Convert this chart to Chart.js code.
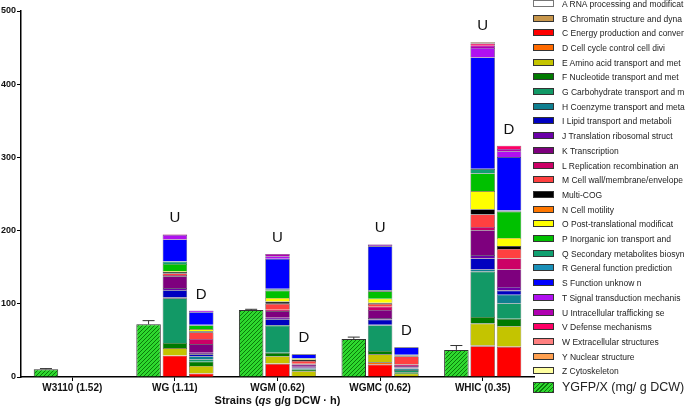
<!DOCTYPE html>
<html>
<head>
<meta charset="utf-8">
<script src="https://cdn.jsdelivr.net/npm/chart.js@4"></script>
<style>
  body { margin: 0; background: #fff; }
  #wrap { position: relative; width: 685px; height: 411px; font-family: Arial, "Liberation Sans", sans-serif; }
  #legend { position: absolute; left: 0; top: 0; }
  .item { position: absolute; left: 533px; height: 10px; white-space: nowrap; }
  .box { position: absolute; left: 0; width: 19px; height: 5px; border: 1px solid #333; }
  .txt { position: absolute; left: 29px; font-size: 8.5px; color: #222; line-height: 10px; top: -5px; }
</style>
</head>
<body>
<div id="wrap">
  <canvas id="c" width="685" height="411"></canvas>
  <div id="legend"></div>
</div>
<script>
const strains = ['W3110 (1.52)', 'WG (1.11)', 'WGM (0.62)', 'WGMC (0.62)', 'WHIC (0.35)'];

const cogLabels = [
  'A RNA processing and modificat', 'B Chromatin structure and dyna', 'C Energy production and conver',
  'D Cell cycle control cell divi', 'E Amino acid transport and met', 'F Nucleotide transport and met',
  'G Carbohydrate transport and m', 'H Coenzyme transport and metab', 'I Lipid transport and metaboli',
  'J Translation ribosomal struct', 'K Transcription', 'L Replication recombination an',
  'M Cell wall/membrane/envelope', 'Multi-COG', 'N Cell motility', 'O Post-translational modificat',
  'P Inorganic ion transport and', 'Q Secondary metabolites biosyn', 'R General function prediction',
  'S Function unknow n', 'T Signal transduction mechanis', 'U Intracellular trafficking se',
  'V Defense mechanisms', 'W Extracellular structures', 'Y Nuclear structure', 'Z Cytoskeleton'
];

const cogColors = [
  '#FFFFFF', '#C8964B', '#FF0000', '#FF6A00', '#C4C400', '#007A00', '#129966', '#0F7F90', '#0000C0',
  '#6B00A8', '#7E007E', '#CC0066', '#FF4040', '#000000', '#FF7700', '#FFFF00', '#00C000', '#10A070',
  '#1A90B8', '#0000FF', '#B010F0', '#B000B0', '#FF0066', '#FF8080', '#FFA050', '#FFFFA0'
];

// YGFP/X (mg/g DCW) with error
const ygfp = [10.5, 72, 91.5, 52, 37];
const ygfpErr = [1, 5, 1, 2.5, 6];

// COG counts, order as cogLabels (A..Z)
//              A  B  C   D    E   F    G   H  I   J    K   L    M  Mc   N  O    P   Q  R    S   T    U    V    W  Y  Z
const upWG    = [0, 0, 29, 0.5, 10, 7,   61, 1, 10, 3,   16, 2,   2, 2,   0, 1,   10, 3, 0.5, 30, 6,   0.5, 0.5, 0, 0, 0];
const downWG  = [0, 0.5, 4, 0.5, 10, 6,  3,  4, 3,  2,   12, 7,   9, 1.5, 0, 3,   5, 0.5, 0.5, 17, 2, 0.5, 0,   0, 0, 0];
const upWGM   = [0, 0, 18, 0.5, 10, 4.5, 37, 1, 8,  2,   9,  2,   8, 3,   0, 5,   10, 2, 0.5, 41, 3.5, 3,  0,   0, 0, 0];
const downWGM = [0, 0, 1,  0,   7,  2,   1, 0.5, 1, 1.5, 3,  1,   4, 1.5, 0, 1.5, 0.5, 0, 0,  5.5, 0,  0,   0,   0, 0, 0];
const upWGMC  = [0, 0, 17, 3,   11, 4.5, 35, 1, 7,  2,   11, 4.5, 4, 1.5, 0, 5.5, 10, 1.5, 0, 60, 2,  1,   0,   0, 0, 0];
const downWGMC= [0, 0, 1,  0.5, 3,  2,   3,  2, 0.5, 1,  2,  2,  11, 1.5, 0, 0.5, 0.5, 0, 0,  10, 0,  0,   0,   0, 0, 0];
const upWHIC  = [0, 0, 42, 1,   30, 9,   62, 3, 15, 4.5, 34, 4.5, 17, 7, 0, 25, 24, 6, 0.5, 152, 13, 3, 3,   1, 1, 0];
const downWHIC= [0, 0, 41, 0.5, 28, 10,  21, 12, 5.5, 5, 24, 15, 13, 4, 0, 11, 36, 1, 0.5, 73, 8,  3,   4.5, 0, 0, 0];

const upByStrain = [null, upWG, upWGM, upWGMC, upWHIC];
const downByStrain = [null, downWG, downWGM, downWGMC, downWHIC];

const FONT = 'Arial, "Liberation Sans", sans-serif';

function hatch() {
  const c = document.createElement('canvas');
  c.width = 4; c.height = 4;
  const g = c.getContext('2d');
  g.fillStyle = '#2ED82E';
  g.fillRect(0, 0, 4, 4);
  g.strokeStyle = '#0A7A0A';
  g.lineWidth = 1;
  g.beginPath();
  g.moveTo(0, 4); g.lineTo(4, 0);
  g.moveTo(-1, 1); g.lineTo(1, -1);
  g.moveTo(3, 5); g.lineTo(5, 3);
  g.stroke();
  return g.createPattern(c, 'repeat');
}

const datasets = [{
  label: 'YGFP/X (mg/ g DCW)',
  stack: 'Y',
  data: ygfp,
  backgroundColor: hatch(),
  borderColor: '#333',
  borderWidth: 1
}];
cogLabels.forEach((lab, k) => {
  datasets.push({
    label: lab, stack: 'U',
    data: upByStrain.map(a => a ? a[k] : null),
    backgroundColor: cogColors[k], borderColor: '#444', borderWidth: 0.6
  });
  datasets.push({
    label: lab + ' (D)', stack: 'D',
    data: downByStrain.map(a => a ? a[k] : null),
    backgroundColor: cogColors[k], borderColor: '#444', borderWidth: 0.6
  });
});

const extras = {
  id: 'extras',
  afterDatasetsDraw(chart) {
    const ctx = chart.ctx;
    const y = chart.scales.y;
    const ygMeta = chart.getDatasetMeta(0);
    ctx.save();
    // error bars
    ctx.strokeStyle = '#333';
    ctx.lineWidth = 1;
    ygfp.forEach((v, i) => {
      const el = ygMeta.data[i];
      const top = y.getPixelForValue(v + ygfpErr[i]);
      const bot = y.getPixelForValue(v);
      ctx.beginPath();
      ctx.moveTo(el.x, bot); ctx.lineTo(el.x, top);
      ctx.moveTo(el.x - 6, top); ctx.lineTo(el.x + 6, top);
      ctx.stroke();
    });
    // U / D labels
    ctx.fillStyle = '#111';
    ctx.font = '15px ' + FONT;
    ctx.textAlign = 'center';
    ctx.textBaseline = 'middle';
    const uMeta = chart.getDatasetMeta(1);
    const dMeta = chart.getDatasetMeta(2);
    strains.forEach((s, i) => {
      if (!upByStrain[i]) return;
      const uSum = upByStrain[i].reduce((a, b) => a + b, 0);
      const dSum = downByStrain[i].reduce((a, b) => a + b, 0);
      ctx.fillText('U', uMeta.data[i].x, y.getPixelForValue(uSum) - 16);
      ctx.fillText('D', dMeta.data[i].x, y.getPixelForValue(dSum) - 16);
    });
    // x axis title with italic qs
    const parts = [['bold', 'Strains ('], ['italic bold', 'qs'], ['bold', ' g/g DCW \u00b7 h)']];
    let total = 0;
    parts.forEach(p => { ctx.font = p[0] + ' 11px ' + FONT; total += ctx.measureText(p[1]).width; });
    let x = (chart.chartArea.left + chart.chartArea.right) / 2 - total / 2;
    ctx.textAlign = 'left';
    parts.forEach(p => {
      ctx.font = p[0] + ' 11px ' + FONT;
      ctx.fillText(p[1], x, 401);
      x += ctx.measureText(p[1]).width;
    });
    ctx.restore();
  }
};

new Chart(document.getElementById('c'), {
  type: 'bar',
  data: { labels: strains, datasets: datasets },
  options: {
    responsive: false,
    animation: false,
    devicePixelRatio: 1,
    categoryPercentage: 0.77,
    barPercentage: 0.93,
    layout: { padding: { top: 11, right: 151, left: 0, bottom: 0 } },
    plugins: { legend: { display: false }, tooltip: { enabled: false } },
    scales: {
      x: {
        stacked: true,
        afterFit: s => { s.height = 34; },
        grid: { display: true, drawOnChartArea: false, offset: false, color: '#000', tickLength: 4, lineWidth: 1 },
        border: { color: '#000', width: 1.5 },
        ticks: { color: '#111', font: { family: FONT, size: 10, weight: 'bold' }, padding: 1, maxRotation: 0 }
      },
      y: {
        stacked: true,
        min: 0, max: 500,
        afterFit: s => { s.width = 21; },
        grid: { display: true, drawOnChartArea: false, color: '#000', tickLength: 4, lineWidth: 1 },
        border: { color: '#000', width: 1.5 },
        ticks: { stepSize: 100, color: '#111', font: { family: FONT, size: 9, weight: 'bold' }, padding: 1 }
      }
    }
  },
  plugins: [extras]
});

// legend
const legend = document.getElementById('legend');
cogLabels.forEach((lab, i) => {
  const it = document.createElement('div');
  it.className = 'item';
  it.style.top = (3.3 + i * 14.7 - 3.5) + 'px';
  const b = document.createElement('div');
  b.className = 'box';
  b.style.background = cogColors[i];
  if (i === 0) b.style.borderColor = '#777';
  const t = document.createElement('div');
  t.className = 'txt';
  t.style.top = '-1px';
  t.textContent = lab;
  it.appendChild(b); it.appendChild(t);
  legend.appendChild(it);
});
const yi = document.createElement('div');
yi.className = 'item';
yi.style.top = '382px';
const yb = document.createElement('div');
yb.className = 'box';
yb.style.height = '9px';
yb.style.background = 'repeating-linear-gradient(-45deg, #0A7A0A 0 1px, #2ED82E 1px 3px)';
const yt = document.createElement('div');
yt.className = 'txt';
yt.style.fontSize = '12.5px';
yt.style.top = '-1px';
yt.style.lineHeight = '12px';
yt.textContent = datasets[0].label;
yi.appendChild(yb); yi.appendChild(yt);
legend.appendChild(yi);
</script>
</body>
</html>
